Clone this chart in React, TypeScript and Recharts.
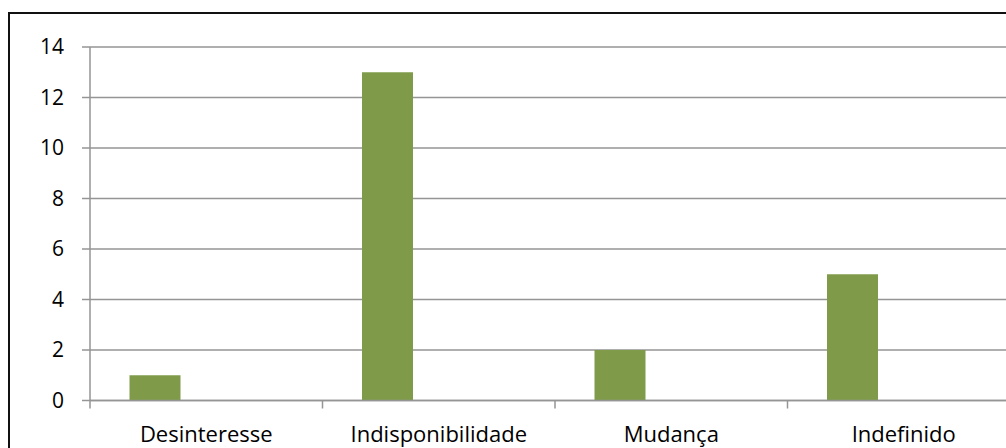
import { BarChart, Bar, XAxis, YAxis, CartesianGrid } from 'recharts';

const categories = ['Desinteresse', 'Indisponibilidade', 'Mudança', 'Indefinido'];
const valores = [1, 13, 2, 5];
const yTicks = [0, 2, 4, 6, 8, 10, 12, 14];

const CHART_W = 1040;
const CHART_H = 460;
const MARGIN = { top: 33, right: 30, left: 0, bottom: 33.5 };
const Y_WIDTH = 80;
const X_HEIGHT = 40;
const PLOT_BOTTOM = CHART_H - MARGIN.bottom - X_HEIGHT;
const BAND = (CHART_W - MARGIN.left - MARGIN.right - Y_WIDTH) / categories.length;

const FONT = '"Open Sans", "Noto Sans", sans-serif';
const GRID = '#959595';

// two empty series keep the Excel-style offset of the first bar
const data = categories.map((name, i) => ({ name, valor: valores[i], s2: null, s3: null }));

function CategoryTick(props: any) {
  const { x, payload } = props;
  const edge = x - BAND / 2;
  return (
    <g>
      <line x1={edge} y1={PLOT_BOTTOM} x2={edge} y2={PLOT_BOTTOM + 8} stroke={GRID} strokeWidth={1.5} />
      <text x={x} y={PLOT_BOTTOM + 41.5} textAnchor="middle" fill="#000" fontSize={22} fontFamily={FONT}>
        {payload.value}
      </text>
    </g>
  );
}

export default function App() {
  return (
    <div style={{ position: 'fixed', left: 0, top: 0, width: 1006, height: 448, overflow: 'hidden', background: '#fff' }}>
      <div style={{ position: 'absolute', left: 8, top: 12, width: CHART_W, height: CHART_H, border: '2px solid #111' }}>
        <BarChart width={CHART_W} height={CHART_H} data={data} margin={MARGIN} barGap={0} barCategoryGap={39.5}>
          <CartesianGrid vertical={false} stroke={GRID} strokeWidth={1.5} />
          <XAxis
            dataKey="name"
            height={X_HEIGHT}
            interval={0}
            axisLine={{ stroke: GRID, strokeWidth: 1.5 }}
            tickLine={false}
            tick={<CategoryTick />}
          />
          <YAxis
            width={Y_WIDTH}
            domain={[0, 14]}
            ticks={yTicks}
            interval={0}
            tickSize={8}
            tickMargin={18}
            axisLine={{ stroke: GRID, strokeWidth: 1.5 }}
            tickLine={{ stroke: GRID, strokeWidth: 1.5 }}
            tick={{ fill: '#000', fontSize: 21, fontFamily: FONT }}
          />
          <Bar dataKey="valor" fill="#7f9b4a" isAnimationActive={false} />
          <Bar dataKey="s2" fill="#c0504d" isAnimationActive={false} />
          <Bar dataKey="s3" fill="#4f81bd" isAnimationActive={false} />
        </BarChart>
      </div>
    </div>
  );
}
